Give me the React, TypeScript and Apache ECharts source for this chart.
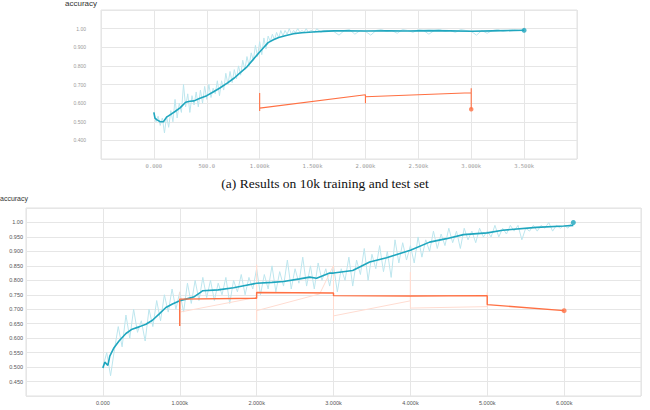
import React, { useEffect, useRef } from "react";
import * as echarts from "echarts";

// ---------- Top chart (10k set) ----------
const topRawEarlyStart = 0;
const topRawEarlyStep = 20;
const topRawEarly = [
  0.55, 0.5, 0.53, 0.48, 0.52, 0.44, 0.53, 0.47, 0.56, 0.5,
  0.62, 0.52, 0.6, 0.55, 0.7, 0.58, 0.65, 0.55, 0.64, 0.59,
  0.66, 0.58, 0.67, 0.6, 0.69, 0.62, 0.7, 0.63, 0.68, 0.65,
  0.72, 0.64, 0.72, 0.67, 0.76, 0.7, 0.77, 0.71, 0.78, 0.73,
  0.8, 0.75, 0.83, 0.78, 0.85, 0.8, 0.87, 0.83, 0.91, 0.85,
  0.93, 0.86, 0.95, 0.89, 0.96, 0.93, 0.97, 0.94, 0.98, 0.95,
  0.99, 0.96, 0.99, 0.97, 1.0, 0.97, 0.99, 0.98, 1.0, 0.98,
  0.99, 0.98, 1.0, 0.98, 0.99, 0.99, 0.98, 1.0, 0.99, 0.98,
  0.99,
];
const topRawLateStart = 1650;
const topRawLateStep = 50;
const topRawLate = [
  0.99, 0.985, 0.965, 0.99, 0.995, 0.97, 0.99, 0.985, 0.965, 0.99,
  0.995, 0.985, 0.99, 0.975, 0.995, 0.99, 0.98, 0.995, 0.99, 0.97,
  0.99, 0.995, 0.985, 0.99, 0.98, 0.995, 0.99, 0.985, 0.965, 0.99,
  0.975, 0.99, 0.995, 0.985, 0.99, 0.995, 0.99, 0.99,
];
const topSmoothSteps = [
  0, 10, 30, 60, 90, 120, 160, 200, 250, 300, 340, 380, 430, 500, 560, 620,
  700, 760, 820, 880, 940, 1000, 1040, 1080, 1130, 1180, 1250, 1320, 1400,
  1500, 1600, 1700, 1800, 2000, 2200, 2400, 2600, 2800, 3000, 3200, 3400, 3500,
];
const topSmoothValues = [
  0.55, 0.52, 0.51, 0.5, 0.5, 0.525, 0.54, 0.555, 0.576, 0.605, 0.61, 0.612,
  0.625, 0.64, 0.66, 0.68, 0.71, 0.735, 0.765, 0.795, 0.835, 0.874, 0.9,
  0.925, 0.94, 0.952, 0.963, 0.973, 0.978, 0.982, 0.985, 0.988, 0.988, 0.987,
  0.988, 0.987, 0.989, 0.988, 0.986, 0.988, 0.99, 0.991,
];
const topTestSteps = [1000, 1000, 1000, 2000, 2000, 2000, 3000, 3000, 3000];
const topTestValues = [0.654, 0.558, 0.573, 0.645, 0.6, 0.634, 0.656, 0.68, 0.567];
const topTrainLast = [3500, 0.991];
const topTestLast = [3000, 0.567];

// ---------- Bottom chart ----------
const botRawStart = 0;
const botRawStep = 50;
const botRaw = [
  0.5, 0.55, 0.47, 0.56, 0.64, 0.57, 0.68, 0.6, 0.7, 0.62,
  0.66, 0.59, 0.7, 0.64, 0.73, 0.66, 0.75, 0.69, 0.77, 0.7,
  0.76, 0.69, 0.79, 0.72, 0.8, 0.73, 0.81, 0.74, 0.8, 0.73,
  0.79, 0.75, 0.81, 0.72, 0.8, 0.76, 0.82, 0.75, 0.81, 0.77,
  0.84, 0.75, 0.82, 0.77, 0.85, 0.76, 0.83, 0.78, 0.87, 0.77,
  0.84, 0.79, 0.88, 0.78, 0.85, 0.77, 0.86, 0.8, 0.84, 0.78,
  0.85, 0.76, 0.84, 0.8, 0.88, 0.78, 0.87, 0.82, 0.91, 0.8,
  0.89, 0.84, 0.92, 0.83, 0.9, 0.81, 0.94, 0.86, 0.93, 0.87,
  0.92, 0.86, 0.95, 0.88, 0.94, 0.9, 0.97, 0.91, 0.96, 0.92,
  0.98, 0.93, 0.97, 0.91, 0.98, 0.94, 0.97, 0.93, 0.98, 0.95,
  0.97, 0.95, 0.99, 0.95, 0.98, 0.96, 0.99, 0.97, 0.99, 0.94,
  0.98, 0.97, 0.99, 0.97, 0.99, 0.98, 1.0, 0.97, 0.99, 0.98,
  0.99, 0.98, 1.0,
];
const botSmoothSteps = [
  0, 25, 65, 90, 145, 210, 300, 380, 470, 560, 645, 730, 820, 905, 1000, 1080,
  1180, 1270, 1300, 1500, 1700, 1850, 2000, 2200, 2350, 2560, 2690, 2780, 2950,
  3000, 3250, 3470, 3690, 4000, 4250, 4470, 4690, 5000, 5200, 5640, 6000, 6120,
];
const botSmoothValues = [
  0.497, 0.517, 0.506, 0.538, 0.567, 0.59, 0.616, 0.631, 0.639, 0.648, 0.662,
  0.683, 0.706, 0.718, 0.729, 0.735, 0.742, 0.758, 0.764, 0.767, 0.774, 0.782,
  0.79, 0.793, 0.796, 0.805, 0.811, 0.807, 0.825, 0.825, 0.834, 0.863, 0.878,
  0.904, 0.932, 0.944, 0.958, 0.964, 0.973, 0.983, 0.988, 0.99,
];
const botTestSteps = [1000, 1000, 2000, 2000, 3000, 3000, 4000, 5000, 5000, 6000];
const botTestValues = [0.642, 0.735, 0.738, 0.758, 0.756, 0.747, 0.746, 0.747, 0.716, 0.695];
const botTestRawSteps = [
  1000, 1000, 2000, 2000, 2000, 2000, 2820, 3000, 3000, 3000, 4000, 4000, 4000, 5000, 5000, 5000,
];
const botTestRawValues = [
  0.76, 0.69, 0.741, 0.854, 0.662, 0.695, 0.753, 0.851, 0.66, 0.677, 0.729, 0.828, 0.704, 0.709, 0.758, 0.709,
];
const botTrainLast = [6120, 1.0];
const botTestLast = [6000, 0.695];

const CAPTION = "(a) Results on 10k training and test set";
const YTITLE = "accuracy";

const CYAN = "#1fa6be";
const CYAN_RAW = "#bde6ee";
const ORANGE = "#ff7043";
const ORANGE_RAW = "#ffdcd1";
const GRID = "#e6e6e6";

const zip = (xs: number[], ys: number[]) => xs.map((x, i) => [x, ys[i]]);
const seq = (start: number, step: number, vals: number[]) => vals.map((v, i) => [start + i * step, v]);

const fmtTopX = (v: number) => {
  if (v < 0 || v > 3600) return "";
  if (v === 0) return "0.000";
  if (v < 1000) return v.toFixed(1);
  return (v / 1000).toFixed(3) + "k";
};
const fmtBotX = (v: number) => {
  if (v < 0 || v > 6500) return "";
  if (v === 0) return "0.000";
  return (v / 1000).toFixed(3) + "k";
};
const fmtTopY = (v: number) => {
  if (v < 0.35 || v > 1.05) return "";
  if (Math.abs(v - 1) < 1e-6) return "1.00";
  return v.toFixed(3);
};
const fmtBotY = (v: number) => {
  if (v < 0.425 || v > 1.025) return "";
  if (Math.abs(v - 1) < 1e-6) return "1.00";
  return v.toFixed(3);
};

export default function App() {
  const ref = useRef<HTMLDivElement>(null);
  useEffect(() => {
    if (!ref.current) return;
    const chart = echarts.init(ref.current, null, { renderer: "svg" });
    const lineBase = { type: "line", symbol: "none", animation: false };
    chart.setOption({
      animation: false,
      backgroundColor: "#ffffff",
      grid: [
        { left: 101, top: 10, width: 476, height: 149, show: true, borderColor: "#e2e2e2", borderWidth: 1 },
        { left: 26, top: 208, width: 615, height: 188, show: true, borderColor: "#e0e0e0", borderWidth: 1 },
      ],
      xAxis: [
        {
          type: "value", gridIndex: 0, min: -500, max: 4000, interval: 500,
          axisLine: { show: false }, axisTick: { show: false },
          splitLine: { show: true, lineStyle: { color: GRID, width: 1 } },
          axisLabel: { formatter: fmtTopX, fontSize: 5.5, color: "#9a9a9a", margin: 4, fontFamily: "DejaVu Sans Mono", showMinLabel: true, showMaxLabel: true },
        },
        {
          type: "value", gridIndex: 1, min: -1000, max: 7000, interval: 1000,
          axisLine: { show: false }, axisTick: { show: false },
          splitLine: { show: true, lineStyle: { color: GRID, width: 1 } },
          axisLabel: { formatter: fmtBotX, fontSize: 5.5, color: "#555", margin: 4, fontFamily: "Liberation Sans", showMinLabel: true, showMaxLabel: true },
        },
      ],
      yAxis: [
        {
          type: "value", gridIndex: 0, min: 0.3, max: 1.1, interval: 0.1,
          axisLine: { show: false }, axisTick: { show: false },
          splitLine: { show: true, lineStyle: { color: GRID, width: 1 } },
          axisLabel: { formatter: fmtTopY, fontSize: 5, color: "#9a9a9a", margin: 15, fontFamily: "Liberation Sans", showMinLabel: true, showMaxLabel: true },
        },
        {
          type: "value", gridIndex: 1, min: 0.4, max: 1.05, interval: 0.05,
          axisLine: { show: false }, axisTick: { show: false },
          splitLine: { show: true, lineStyle: { color: GRID, width: 1 } },
          axisLabel: { formatter: fmtBotY, fontSize: 5.5, color: "#555", margin: 3, fontFamily: "Liberation Sans", showMinLabel: true, showMaxLabel: true },
        },
      ],
      graphic: [
        { type: "text", left: 65, top: -1, style: { text: YTITLE, fontSize: 8, fill: "#333", fontFamily: "Liberation Sans" } },
        { type: "text", left: 0, top: 195, style: { text: YTITLE, fontSize: 7, fill: "#333", fontFamily: "Liberation Sans" } },
        {
          type: "text", left: "center", top: 176,
          style: { text: CAPTION, fontSize: 13.5, fill: "#111", fontFamily: "Liberation Serif" },
        },
      ],
      series: [
        // top chart
        { ...lineBase, xAxisIndex: 0, yAxisIndex: 0, data: seq(topRawEarlyStart, topRawEarlyStep, topRawEarly).concat(seq(topRawLateStart, topRawLateStep, topRawLate)), lineStyle: { color: CYAN_RAW, width: 1 }, z: 1 },
        { ...lineBase, xAxisIndex: 0, yAxisIndex: 0, data: zip(topSmoothSteps, topSmoothValues), lineStyle: { color: CYAN, width: 1.6 }, z: 3 },
        { ...lineBase, xAxisIndex: 0, yAxisIndex: 0, data: zip(topTestSteps, topTestValues), lineStyle: { color: ORANGE, width: 1.1 }, z: 3 },
        { type: "scatter", xAxisIndex: 0, yAxisIndex: 0, data: [topTrainLast], symbolSize: 5, itemStyle: { color: CYAN }, z: 4 },
        { type: "scatter", xAxisIndex: 0, yAxisIndex: 0, data: [topTestLast], symbolSize: 4.5, itemStyle: { color: ORANGE }, z: 4 },
        // bottom chart
        { ...lineBase, xAxisIndex: 1, yAxisIndex: 1, data: seq(botRawStart, botRawStep, botRaw), lineStyle: { color: CYAN_RAW, width: 1 }, z: 1 },
        { ...lineBase, xAxisIndex: 1, yAxisIndex: 1, data: zip(botTestRawSteps, botTestRawValues), lineStyle: { color: ORANGE_RAW, width: 1 }, z: 2 },
        { ...lineBase, xAxisIndex: 1, yAxisIndex: 1, data: zip(botSmoothSteps, botSmoothValues), lineStyle: { color: CYAN, width: 1.6 }, z: 3 },
        { ...lineBase, xAxisIndex: 1, yAxisIndex: 1, data: zip(botTestSteps, botTestValues), lineStyle: { color: ORANGE, width: 1.4 }, z: 3 },
        { type: "scatter", xAxisIndex: 1, yAxisIndex: 1, data: [botTrainLast], symbolSize: 5, itemStyle: { color: CYAN }, z: 4 },
        { type: "scatter", xAxisIndex: 1, yAxisIndex: 1, data: [botTestLast], symbolSize: 5, itemStyle: { color: ORANGE }, z: 4 },
      ],
    });
    return () => chart.dispose();
  }, []);
  return (
    <div
      ref={ref}
      style={{ position: "absolute", left: 0, top: 0, width: 650, height: 410 }}
    />
  );
}
